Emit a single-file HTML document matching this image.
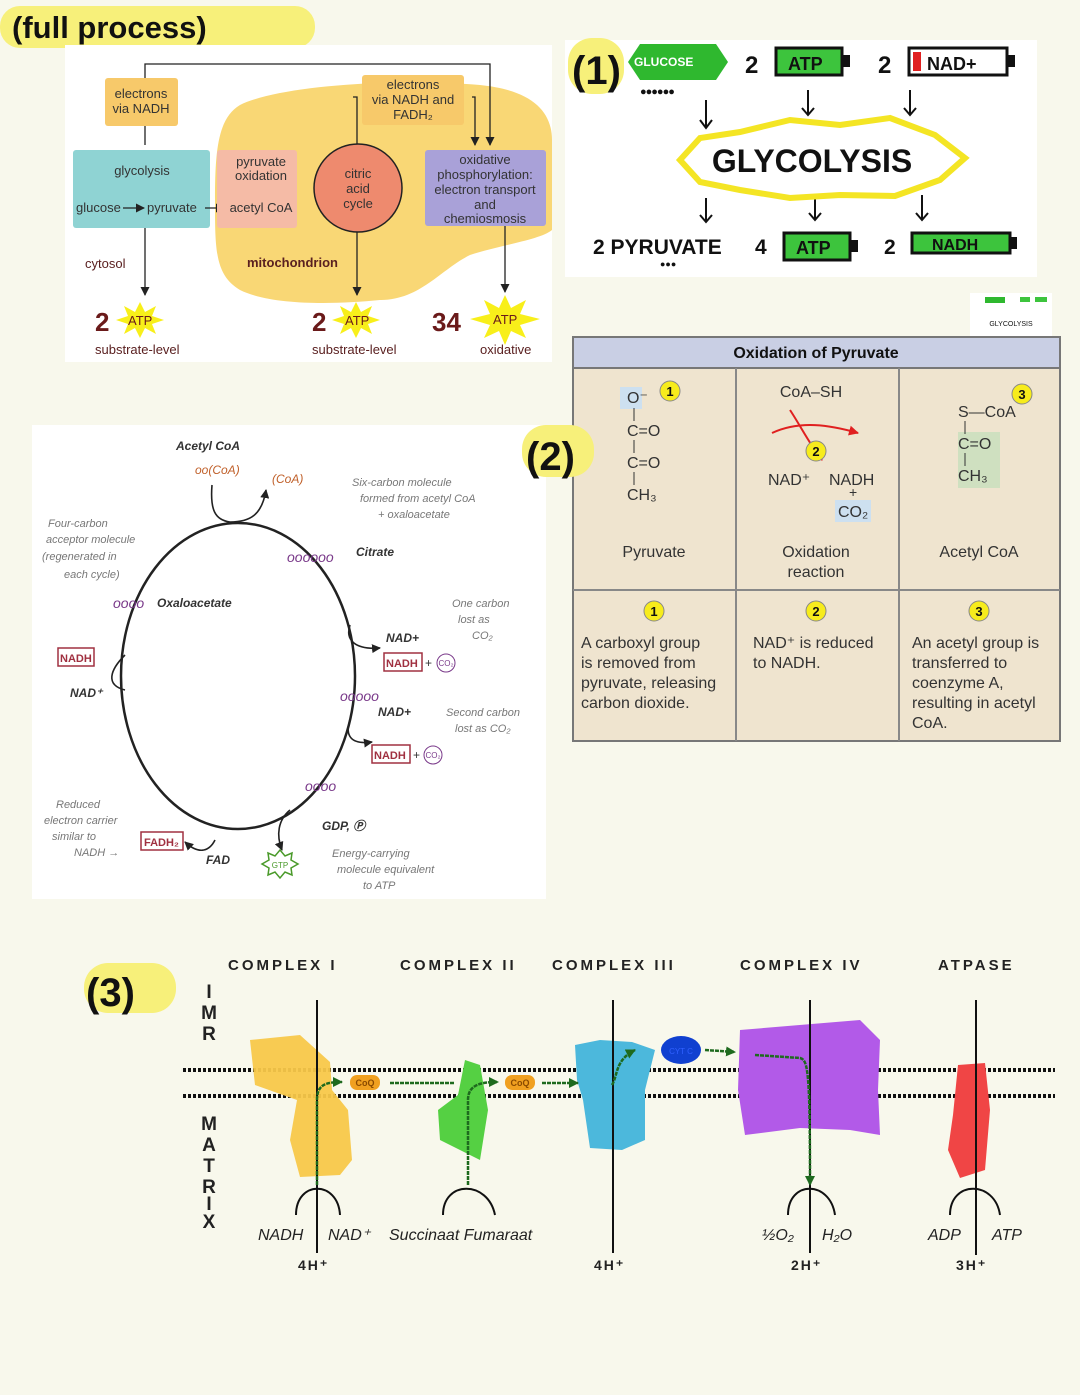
<!DOCTYPE html>
<html><head><meta charset="utf-8"><style>
html,body{margin:0;padding:0;background:#f8f8ec;}
svg{display:block}
text{font-family:"Liberation Sans",sans-serif}
.hand{font-family:"Liberation Sans",sans-serif;font-style:italic}
</style></head><body>
<svg width="1080" height="1395" viewBox="0 0 1080 1395" xmlns="http://www.w3.org/2000/svg">
<defs>
<marker id="ah" markerUnits="userSpaceOnUse" markerWidth="9" markerHeight="9" refX="8" refY="4.5" orient="auto"><path d="M0,0 L9,4.5 L0,9 z" fill="#222"/></marker>
<marker id="ag" markerUnits="userSpaceOnUse" markerWidth="10" markerHeight="10" refX="9" refY="5" orient="auto"><path d="M0,0 L10,5 L0,10 z" fill="#1e6a1e"/></marker>
<marker id="ar" markerUnits="userSpaceOnUse" markerWidth="10" markerHeight="10" refX="9" refY="5" orient="auto"><path d="M0,0 L10,5 L0,10 z" fill="#e02020"/></marker>
</defs>
<rect width="1080" height="1395" fill="#f8f8ec"/>

<!-- title -->
<rect x="0" y="6" width="315" height="42" rx="20" fill="#f7f07a"/>
<text x="12" y="38" font-size="31" font-weight="bold" fill="#111">(full process)</text>

<!-- Panel A -->
<rect x="65" y="45" width="487" height="317" fill="#fff"/>
<path d="M240,105 C280,85 400,78 480,85 C530,90 552,110 552,140 L552,230 C540,240 500,245 470,255 C440,270 420,300 380,300 C330,305 270,305 240,290 C215,275 215,250 215,200 C215,150 218,118 240,105 z" fill="#f9d775"/>
<path d="M145,145 L145,64 L490,64 L490,145" fill="none" stroke="#222" stroke-width="1.3" marker-end="url(#ah)"/>
<rect x="105" y="78" width="73" height="48" rx="3" fill="#f7c96a"/>
<text x="141" y="98" font-size="13" text-anchor="middle" fill="#333">electrons</text>
<text x="141" y="113" font-size="13" text-anchor="middle" fill="#333">via NADH</text>
<rect x="362" y="75" width="102" height="50" rx="3" fill="#f7c96a"/>
<text x="413" y="89" font-size="13" text-anchor="middle" fill="#333">electrons</text>
<text x="413" y="104" font-size="13" text-anchor="middle" fill="#333">via NADH and</text>
<text x="413" y="119" font-size="13" text-anchor="middle" fill="#333">FADH₂</text>
<path d="M357,150 L357,97 L353,97" fill="none" stroke="#222" stroke-width="1.3"/>
<path d="M472,97 L475,97 L475,145" fill="none" stroke="#222" stroke-width="1.3" marker-end="url(#ah)"/>
<rect x="73" y="150" width="137" height="78" rx="3" fill="#8fd3d3"/>
<text x="142" y="175" font-size="13" text-anchor="middle" fill="#333">glycolysis</text>
<text x="76" y="212" font-size="13" fill="#333">glucose</text>
<line x1="123" y1="208" x2="144" y2="208" stroke="#222" stroke-width="1.3" marker-end="url(#ah)"/>
<text x="147" y="212" font-size="13" fill="#333">pyruvate</text>
<line x1="205" y1="208" x2="224" y2="208" stroke="#222" stroke-width="1.3" marker-end="url(#ah)"/>
<rect x="217" y="150" width="80" height="78" rx="3" fill="#f5bba6"/>
<text x="261" y="166" font-size="13" text-anchor="middle" fill="#333">pyruvate</text>
<text x="261" y="180" font-size="13" text-anchor="middle" fill="#333">oxidation</text>
<text x="261" y="212" font-size="13" text-anchor="middle" fill="#333">acetyl CoA</text>
<circle cx="358" cy="188" r="44" fill="#ee8a6e" stroke="#222" stroke-width="1.5"/>
<text x="358" y="178" font-size="13" text-anchor="middle" fill="#333">citric</text>
<text x="358" y="193" font-size="13" text-anchor="middle" fill="#333">acid</text>
<text x="358" y="208" font-size="13" text-anchor="middle" fill="#333">cycle</text>
<rect x="425" y="150" width="121" height="76" rx="3" fill="#a9a1d8"/>
<text x="485" y="164" font-size="13" text-anchor="middle" fill="#333">oxidative</text>
<text x="485" y="179" font-size="13" text-anchor="middle" fill="#333">phosphorylation:</text>
<text x="485" y="194" font-size="13" text-anchor="middle" fill="#333">electron transport</text>
<text x="485" y="209" font-size="13" text-anchor="middle" fill="#333">and</text>
<text x="485" y="223" font-size="13" text-anchor="middle" fill="#333">chemiosmosis</text>
<text x="85" y="268" font-size="13" fill="#5a2020">cytosol</text>
<text x="247" y="267" font-size="13" font-weight="bold" fill="#5a2020">mitochondrion</text>
<line x1="145" y1="228" x2="145" y2="295" stroke="#222" stroke-width="1.3" marker-end="url(#ah)"/>
<line x1="357" y1="232" x2="357" y2="295" stroke="#222" stroke-width="1.3" marker-end="url(#ah)"/>
<line x1="505" y1="226" x2="505" y2="292" stroke="#222" stroke-width="1.3" marker-end="url(#ah)"/>
<g fill="#f8ef1a">
<polygon points="140,302 145,312 156,306 152,316 164,320 152,324 156,334 145,328 140,338 135,328 124,334 128,324 116,320 128,316 124,306 135,312"/>
<polygon points="356,302 361,312 372,306 368,316 380,320 368,324 372,334 361,328 356,338 351,328 340,334 344,324 332,320 344,316 340,306 351,312"/>
<polygon points="505,295 511,308 526,300 520,314 540,319 520,325 526,338 511,331 505,345 499,331 484,338 490,325 470,319 490,314 484,300 499,308"/>
</g>
<text x="95" y="331" font-size="26" font-weight="bold" fill="#6a1a1a">2</text>
<text x="128" y="325" font-size="13" fill="#6a1a1a">ATP</text>
<text x="312" y="331" font-size="26" font-weight="bold" fill="#6a1a1a">2</text>
<text x="345" y="325" font-size="13" fill="#6a1a1a">ATP</text>
<text x="432" y="331" font-size="26" font-weight="bold" fill="#6a1a1a">34</text>
<text x="493" y="324" font-size="13" fill="#6a1a1a">ATP</text>
<text x="95" y="354" font-size="13" fill="#5a2020">substrate-level</text>
<text x="312" y="354" font-size="13" fill="#5a2020">substrate-level</text>
<text x="480" y="354" font-size="13" fill="#5a2020">oxidative</text>

<!-- Panel 1 glycolysis -->
<rect x="565" y="40" width="472" height="237" fill="#fff"/>
<rect x="568" y="38" width="56" height="56" rx="24" fill="#f7f07a"/>
<text x="572" y="84" font-size="40" font-weight="bold" fill="#111">(1)</text>
<polygon points="628,62 640,44 716,44 728,62 716,80 640,80" fill="#2fb82f"/>
<text x="634" y="66" font-size="12" font-weight="bold" fill="#fff">GLUCOSE</text>
<text x="640" y="95" font-size="11" fill="#111" letter-spacing="-1">●●●●●●</text>
<text x="745" y="73" font-size="24" font-weight="bold" fill="#111">2</text>
<rect x="776" y="48" width="66" height="27" fill="#3dc43d" stroke="#111" stroke-width="3"/>
<rect x="842" y="55" width="8" height="12" fill="#111"/>
<text x="788" y="70" font-size="18" font-weight="bold" fill="#111">ATP</text>
<text x="878" y="73" font-size="24" font-weight="bold" fill="#111">2</text>
<rect x="909" y="48" width="98" height="27" fill="#fff" stroke="#111" stroke-width="3"/>
<rect x="913" y="52" width="8" height="19" fill="#e02020"/>
<rect x="1007" y="55" width="8" height="12" fill="#111"/>
<text x="927" y="70" font-size="18" font-weight="bold" fill="#111">NAD+</text>
<g stroke="#111" stroke-width="2" fill="none"><path d="M706,100 L706,128 M700,120 L706,128 L712,120"/><path d="M808,90 L808,115 M802,108 L808,115 L814,108"/><path d="M910,90 L910,115 M904,108 L910,115 L916,108"/><path d="M706,198 L706,222 M700,215 L706,222 L712,215"/><path d="M815,195 L815,220 M809,213 L815,220 L821,213"/><path d="M922,195 L922,220 M916,213 L922,220 L928,213"/></g>
<polygon points="680,160 700,138 740,132 790,120 840,125 890,118 935,135 965,158 940,180 895,196 840,195 790,198 740,190 700,182" fill="#fff" stroke="#f4e524" stroke-width="6"/>
<text x="812" y="172" font-size="32" font-weight="bold" text-anchor="middle" fill="#111">GLYCOLYSIS</text>
<text x="593" y="254" font-size="21" font-weight="bold" fill="#111">2 PYRUVATE</text>
<text x="660" y="267" font-size="9" fill="#111">●●●</text>
<text x="755" y="254" font-size="21" font-weight="bold" fill="#111">4</text>
<rect x="784" y="233" width="66" height="27" fill="#3dc43d" stroke="#111" stroke-width="3"/>
<rect x="850" y="240" width="8" height="12" fill="#111"/>
<text x="796" y="254" font-size="18" font-weight="bold" fill="#111">ATP</text>
<text x="884" y="254" font-size="21" font-weight="bold" fill="#111">2</text>
<rect x="912" y="233" width="98" height="20" fill="#3dc43d" stroke="#111" stroke-width="3"/>
<rect x="1010" y="237" width="7" height="12" fill="#111"/>
<text x="932" y="250" font-size="16" font-weight="bold" fill="#111">NADH</text>

<!-- thumbnail -->
<rect x="970" y="293" width="82" height="57" fill="#fff"/>
<text x="1011" y="326" font-size="7" text-anchor="middle" fill="#111">GLYCOLYSIS</text>
<rect x="985" y="297" width="20" height="6" fill="#2fb82f"/>
<rect x="1020" y="297" width="10" height="5" fill="#3dc43d"/>
<rect x="1035" y="297" width="12" height="5" fill="#3dc43d"/>

<!-- Table -->
<rect x="573" y="337" width="487" height="404" fill="#efe4cf" stroke="#777" stroke-width="2"/>
<rect x="573" y="337" width="487" height="31" fill="#c9cfe4" stroke="#777" stroke-width="2"/>
<text x="816" y="358" font-size="16" font-weight="bold" text-anchor="middle" fill="#111">Oxidation of Pyruvate</text>
<g stroke="#888" stroke-width="2"><line x1="736" y1="368" x2="736" y2="741"/><line x1="899" y1="368" x2="899" y2="741"/><line x1="573" y1="590" x2="1060" y2="590"/></g>
<rect x="620" y="387" width="22" height="22" fill="#cde0f0"/>
<text x="627" y="403" font-size="16" fill="#333">O⁻</text>
<text x="627" y="436" font-size="16" fill="#333">C=O</text>
<text x="627" y="468" font-size="16" fill="#333">C=O</text>
<text x="627" y="500" font-size="16" fill="#333">CH₃</text>
<g stroke="#333"><line x1="634" y1="408" x2="634" y2="421"/><line x1="634" y1="440" x2="634" y2="453"/><line x1="634" y1="472" x2="634" y2="485"/></g>
<text x="654" y="557" font-size="16" text-anchor="middle" fill="#333">Pyruvate</text>
<text x="811" y="397" font-size="16" text-anchor="middle" fill="#333">CoA–SH</text>
<path d="M772,433 C800,420 830,425 858,433" stroke="#e02020" stroke-width="2" fill="none" marker-end="url(#ar)"/>
<path d="M790,410 C800,425 810,445 822,460" stroke="#e02020" stroke-width="2" fill="none" marker-end="url(#ar)"/>
<text x="768" y="485" font-size="16" fill="#333">NAD⁺</text>
<text x="829" y="485" font-size="16" fill="#333">NADH</text>
<text x="849" y="497" font-size="14" fill="#333">+</text>
<rect x="835" y="500" width="36" height="22" fill="#cde0f0"/>
<text x="838" y="517" font-size="16" fill="#333">CO₂</text>
<text x="816" y="557" font-size="16" text-anchor="middle" fill="#333">Oxidation</text>
<text x="816" y="577" font-size="16" text-anchor="middle" fill="#333">reaction</text>
<rect x="958" y="432" width="42" height="56" fill="#cfe0c0"/>
<text x="958" y="417" font-size="16" fill="#333">S—CoA</text>
<text x="958" y="449" font-size="16" fill="#333">C=O</text>
<text x="958" y="481" font-size="16" fill="#333">CH₃</text>
<g stroke="#333"><line x1="965" y1="421" x2="965" y2="434"/><line x1="965" y1="453" x2="965" y2="466"/></g>
<text x="979" y="557" font-size="16" text-anchor="middle" fill="#333">Acetyl CoA</text>
<g fill="#f7ec1c" stroke="#888"><circle cx="670" cy="391" r="10"/><circle cx="816" cy="451" r="10"/><circle cx="1022" cy="394" r="10"/><circle cx="654" cy="611" r="10"/><circle cx="816" cy="611" r="10"/><circle cx="979" cy="611" r="10"/></g>
<g font-size="13" font-weight="bold" text-anchor="middle" fill="#111"><text x="670" y="396">1</text><text x="816" y="456">2</text><text x="1022" y="399">3</text><text x="654" y="616">1</text><text x="816" y="616">2</text><text x="979" y="616">3</text></g>
<g font-size="16" fill="#333"><text x="581" y="648">A carboxyl group</text><text x="581" y="668">is removed from</text><text x="581" y="688">pyruvate, releasing</text><text x="581" y="708">carbon dioxide.</text>
<text x="753" y="648">NAD⁺ is reduced</text><text x="753" y="668">to NADH.</text>
<text x="912" y="648">An acetyl group is</text><text x="912" y="668">transferred to</text><text x="912" y="688">coenzyme A,</text><text x="912" y="708">resulting in acetyl</text><text x="912" y="728">CoA.</text></g>

<!-- (2) -->
<rect x="32" y="425" width="514" height="474" fill="#fff"/>
<rect x="522" y="425" width="72" height="52" rx="24" fill="#f7f07a"/>
<text x="526" y="470" font-size="40" font-weight="bold" fill="#111">(2)</text>
<ellipse cx="238" cy="676" rx="117" ry="153" fill="none" stroke="#222" stroke-width="2.5"/>
<g class="hand" font-size="12" fill="#333">
<text x="176" y="450" font-weight="bold">Acetyl CoA</text>
<text x="195" y="474" fill="#c0602a">oo(CoA)</text><text x="272" y="483" fill="#c0602a">(CoA)</text>
<text x="287" y="562" fill="#7a3a8a" font-size="14">oooooo</text><text x="356" y="556" font-weight="bold">Citrate</text>
<text x="352" y="486" fill="#777" font-size="11">Six-carbon molecule</text><text x="360" y="502" fill="#777" font-size="11">formed from acetyl CoA</text><text x="378" y="518" fill="#777" font-size="11">+ oxaloacetate</text>
<text x="48" y="527" fill="#777" font-size="11">Four-carbon</text><text x="46" y="543" fill="#777" font-size="11">acceptor molecule</text><text x="42" y="560" fill="#777" font-size="11">(regenerated in</text><text x="64" y="578" fill="#777" font-size="11">each cycle)</text>
<text x="113" y="608" fill="#7a3a8a" font-size="14">oooo</text><text x="157" y="607" font-weight="bold">Oxaloacetate</text>
<text x="452" y="607" fill="#777" font-size="11">One carbon</text><text x="458" y="623" fill="#777" font-size="11">lost as</text><text x="472" y="639" fill="#777" font-size="11">CO₂</text>
<text x="386" y="642" font-weight="bold">NAD+</text><text x="378" y="716" font-weight="bold">NAD+</text>
<text x="340" y="701" fill="#7a3a8a" font-size="14">ooooo</text><text x="305" y="791" fill="#7a3a8a" font-size="14">oooo</text>
<text x="446" y="716" fill="#777" font-size="11">Second carbon</text><text x="455" y="732" fill="#777" font-size="11">lost as CO₂</text>
<text x="70" y="697" font-weight="bold">NAD⁺</text>
<text x="56" y="808" fill="#777" font-size="11">Reduced</text><text x="44" y="824" fill="#777" font-size="11">electron carrier</text><text x="52" y="840" fill="#777" font-size="11">similar to</text><text x="74" y="856" fill="#777" font-size="11">NADH →</text>
<text x="206" y="864" font-weight="bold">FAD</text><text x="322" y="830" font-weight="bold">GDP, Ⓟ</text>
<text x="332" y="857" fill="#777" font-size="11">Energy-carrying</text><text x="337" y="873" fill="#777" font-size="11">molecule equivalent</text><text x="363" y="889" fill="#777" font-size="11">to ATP</text>
</g>
<g fill="none" stroke="#a03040" stroke-width="1.5"><rect x="58" y="648" width="36" height="18"/><rect x="384" y="653" width="38" height="18"/><rect x="372" y="745" width="38" height="18"/><rect x="141" y="832" width="42" height="18"/></g>
<g font-size="11" font-weight="bold" fill="#a03040"><text x="60" y="662">NADH</text><text x="386" y="667">NADH</text><text x="374" y="759">NADH</text><text x="144" y="846">FADH₂</text></g>
<text x="425" y="667" font-size="12" fill="#333">+</text><text x="413" y="759" font-size="12" fill="#333">+</text>
<circle cx="446" cy="663" r="9" fill="none" stroke="#7a3a8a"/><circle cx="433" cy="755" r="9" fill="none" stroke="#7a3a8a"/>
<text x="446" y="666" font-size="8" text-anchor="middle" fill="#7a3a8a">CO₂</text><text x="433" y="758" font-size="8" text-anchor="middle" fill="#7a3a8a">CO₂</text>
<polygon points="280,850 285,856 292,853 291,860 298,864 291,868 292,875 285,872 280,878 275,872 268,875 269,868 262,864 269,860 268,853 275,856" fill="none" stroke="#4a9a2a" stroke-width="1.5"/>
<text x="280" y="868" font-size="8" text-anchor="middle" fill="#4a9a2a">GTP</text>
<g fill="none" stroke="#222" stroke-width="1.6"><path d="M212,485 C210,510 215,520 230,522 C250,522 262,515 266,490" marker-end="url(#ah)"/><path d="M350,625 C345,640 355,650 380,648" marker-end="url(#ah)"/><path d="M350,720 C345,735 350,745 372,742" marker-end="url(#ah)"/><path d="M125,655 C110,670 105,685 125,690"/><path d="M215,840 C210,850 200,856 185,842" marker-end="url(#ah)"/><path d="M290,810 C278,820 276,835 282,850" marker-end="url(#ah)"/></g>

<!-- (3) -->
<rect x="84" y="963" width="92" height="50" rx="24" fill="#f7f07a"/>
<text x="86" y="1006" font-size="40" font-weight="bold" fill="#111">(3)</text>
<g font-size="15" font-weight="bold" fill="#222" letter-spacing="3">
<text x="228" y="970">COMPLEX I</text><text x="400" y="970">COMPLEX II</text><text x="552" y="970">COMPLEX III</text><text x="740" y="970">COMPLEX IV</text><text x="938" y="970">ATPASE</text></g>
<g font-size="19" font-weight="bold" fill="#222" text-anchor="middle">
<text x="209" y="998">I</text><text x="209" y="1019">M</text><text x="209" y="1040">R</text>
<text x="209" y="1130">M</text><text x="209" y="1151">A</text><text x="209" y="1172">T</text><text x="209" y="1193">R</text><text x="209" y="1210">I</text><text x="209" y="1228">X</text></g>
<line x1="183" y1="1070" x2="1055" y2="1070" stroke="#111" stroke-width="4" stroke-dasharray="3,2"/>
<line x1="183" y1="1096" x2="1055" y2="1096" stroke="#111" stroke-width="4" stroke-dasharray="3,2"/>
<path d="M250,1040 L300,1035 L330,1062 L332,1090 L348,1110 L352,1160 L340,1175 L300,1177 L290,1140 L297,1100 L255,1085 Z" fill="#f8c84a" opacity="0.95"/>
<path d="M465,1060 L480,1065 L488,1110 L480,1160 L470,1155 L440,1140 L438,1110 L458,1095 Z" fill="#55d043"/>
<path d="M575,1045 L600,1040 L632,1042 L655,1050 L645,1090 L645,1140 L622,1150 L590,1148 L583,1100 L577,1080 Z" fill="#4cb8dc"/>
<ellipse cx="681" cy="1050" rx="20" ry="14" fill="#1040d0"/>
<text x="681" y="1054" font-size="8" text-anchor="middle" fill="#3060ff">CYT C</text>
<path d="M740,1030 L860,1020 L880,1040 L878,1090 L880,1135 L850,1130 L800,1128 L745,1135 L738,1090 Z" fill="#b25ae8"/>
<path d="M958,1065 L985,1063 L990,1110 L985,1170 L960,1178 L948,1150 L953,1115 Z" fill="#f04545"/>
<g stroke="#111" stroke-width="2" fill="none">
<line x1="317" y1="1000" x2="317" y2="1253"/><line x1="613" y1="1000" x2="613" y2="1253"/><line x1="810" y1="1000" x2="810" y2="1253"/><line x1="976" y1="1000" x2="976" y2="1255"/>
<path d="M296,1215 C296,1180 338,1180 340,1215"/><path d="M443,1215 C443,1180 488,1180 495,1215"/><path d="M788,1215 C788,1180 830,1180 835,1215"/><path d="M950,1215 C950,1180 995,1180 1000,1215"/></g>
<g stroke="#1e6a1e" stroke-width="2.5" fill="none" stroke-dasharray="4,1">
<path d="M317,1185 L317,1100 C317,1085 325,1082 342,1082" marker-end="url(#ag)"/>
<line x1="390" y1="1083" x2="455" y2="1083"/>
<path d="M468,1185 L468,1100 C468,1085 480,1082 498,1082" marker-end="url(#ag)"/>
<line x1="542" y1="1083" x2="578" y2="1083" marker-end="url(#ag)"/>
<path d="M612,1085 C618,1075 615,1060 635,1050" marker-end="url(#ag)"/>
<path d="M705,1050 L735,1052" marker-end="url(#ag)"/>
<path d="M755,1055 L800,1058 C808,1060 810,1070 810,1185" marker-end="url(#ag)"/>
</g>
<rect x="350" y="1075" width="30" height="15" rx="7" fill="#f0a020"/><text x="365" y="1086" font-size="9" font-weight="bold" text-anchor="middle" fill="#8a4a00">CoQ</text>
<rect x="505" y="1075" width="30" height="15" rx="7" fill="#f0a020"/><text x="520" y="1086" font-size="9" font-weight="bold" text-anchor="middle" fill="#8a4a00">CoQ</text>
<g font-size="16" font-style="italic" fill="#222">
<text x="258" y="1240">NADH</text><text x="328" y="1240">NAD⁺</text><text x="389" y="1240">Succinaat Fumaraat</text>
<text x="762" y="1240">½O₂</text><text x="822" y="1240">H₂O</text><text x="928" y="1240">ADP</text><text x="992" y="1240">ATP</text></g>
<g font-size="14" font-weight="bold" fill="#222" letter-spacing="2">
<text x="298" y="1270">4H⁺</text><text x="594" y="1270">4H⁺</text><text x="791" y="1270">2H⁺</text><text x="956" y="1270">3H⁺</text></g>
</svg>
</body></html>
